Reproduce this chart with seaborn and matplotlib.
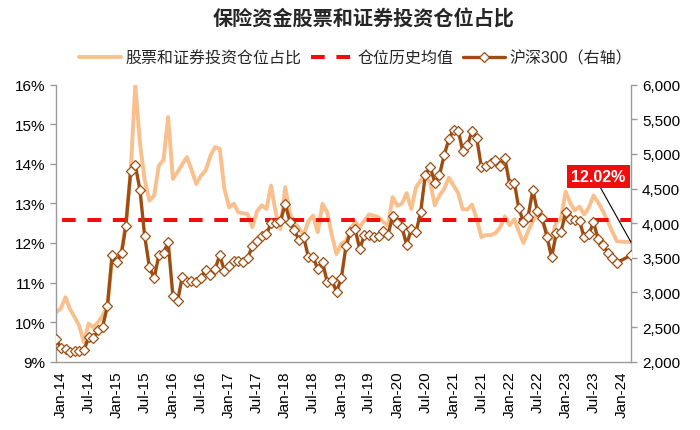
import numpy as np
import pandas as pd
import matplotlib
matplotlib.use("Agg")
import matplotlib.pyplot as plt
import matplotlib.dates as mdates
import matplotlib.ticker as mticker
from matplotlib.lines import Line2D
import seaborn as sns

sns.set_style("white")
plt.rcParams["font.family"] = ["Liberation Sans", "Noto Sans CJK SC"]

# ---------------- data ----------------
title = "保险资金股票和证券投资仓位占比"
series_names = ["股票和证券投资仓位占比", "仓位历史均值", "沪深300（右轴）"]

# monthly observations Dec-2013 ... Dec-2023, then Mar-2024 (quarterly)
dates = list(pd.date_range("2013-12-01", "2023-12-01", freq="MS")) + [pd.Timestamp("2024-03-01")]

share = [
    10.25,
    10.34, 10.63, 10.34, 10.13, 9.91, 9.49, 9.96, 9.87, 10.00, 10.17, 10.42, 11.55,
    11.50, 11.80, 12.50, 13.80, 16.00, 14.50, 13.60, 13.07, 13.20, 13.95, 14.10, 15.18,
    13.62, 13.80, 13.98, 14.17, 13.85, 13.49, 13.70, 13.83, 14.20, 14.42, 14.38, 13.37,
    12.90, 12.99, 12.78, 12.75, 12.73, 12.40, 12.80, 12.95, 12.86, 13.45, 12.75, 12.35,
    13.41, 12.75, 12.50, 12.38, 12.20, 12.55, 12.69, 12.27, 12.99, 12.78, 12.19, 11.72,
    11.98, 12.05, 12.36, 12.53, 12.40, 12.57, 12.72, 12.69, 12.65, 12.53, 12.44, 13.16,
    12.94, 13.00, 13.26, 12.86, 13.40, 13.58, 13.65, 13.55, 12.95, 13.20, 13.37, 13.65,
    13.45, 13.25, 12.85, 12.85, 12.97, 12.60, 12.15, 12.20, 12.20, 12.25, 12.40, 12.67,
    12.45, 12.60, 12.30, 12.00, 12.30, 12.55, 12.75, 12.53, 12.27, 12.10, 12.53, 12.61,
    13.30, 13.00, 12.82, 12.92, 12.72, 12.90, 13.20, 13.02, 12.80, 12.55, 12.28, 12.04,
    12.02,
]

csi300 = [
    2330,
    2202, 2179, 2146, 2159, 2161, 2165, 2351, 2338, 2451, 2508, 2809, 3534,
    3434, 3573, 3966, 4750, 4841, 4473, 3817, 3367, 3203, 3534, 3566, 3731,
    2946, 2877, 3218, 3157, 3170, 3154, 3204, 3328, 3253, 3336, 3538, 3310,
    3388, 3453, 3456, 3440, 3493, 3667, 3738, 3822, 3837, 4007, 4006, 4031,
    4276, 4024, 3899, 3757, 3802, 3511, 3517, 3335, 3439, 3154, 3173, 3011,
    3202, 3669, 3872, 3913, 3630, 3826, 3835, 3800, 3815, 3887, 3829, 4097,
    3999, 3940, 3686, 3913, 3867, 4164, 4695, 4816, 4587, 4695, 4981, 5211,
    5352, 5337, 5048, 5123, 5332, 5224, 4811, 4826, 4866, 4909, 4832, 4940,
    4564, 4582, 4223, 4016, 4091, 4485, 4170, 4079, 3805, 3509, 3853, 3872,
    4157, 4060, 4051, 4029, 3799, 3842, 4015, 3765, 3690, 3573, 3496, 3431,
    3537,
]

avg_share = 12.59

tick_dates = list(pd.date_range("2014-01-01", "2024-01-01", freq="6MS"))
tick_labels = ["Jan-14", "Jul-14", "Jan-15", "Jul-15", "Jan-16", "Jul-16", "Jan-17",
               "Jul-17", "Jan-18", "Jul-18", "Jan-19", "Jul-19", "Jan-20", "Jul-20",
               "Jan-21", "Jul-21", "Jan-22", "Jul-22", "Jan-23", "Jul-23", "Jan-24"]
left_ticks = [9, 10, 11, 12, 13, 14, 15, 16]
right_ticks = [2000, 2500, 3000, 3500, 4000, 4500, 5000, 5500, 6000]

df = pd.DataFrame({"date": dates, "share": share, "csi300": csi300})

# ---------------- style ----------------
LIGHT = "#F9C08E"
BROWN = "#9E4D12"
RED = "#F20D0D"
AXIS = "#9A9A9A"

fig = plt.figure(figsize=(7, 4.31), dpi=100)
ax = fig.add_axes([0.08, 0.1585, 0.8214, 0.6427])
ax2 = ax.twinx()

sns.lineplot(data=df, x="date", y="share", ax=ax, color=LIGHT, lw=2.8,
             solid_joinstyle="round", zorder=2)
ax.axhline(avg_share, color=RED, lw=2.9, linestyle=(4.8, (3.4, 2.9)), zorder=3)

sns.lineplot(data=df, x="date", y="csi300", ax=ax2, color=BROWN, lw=2.4,
             marker="D", markersize=5.5, markerfacecolor="white",
             markeredgecolor=BROWN, markeredgewidth=0.9, zorder=4)

ax.set_xlim(dates[0], dates[-1])
ax.set_ylim(left_ticks[0], left_ticks[-1])
ax2.set_ylim(right_ticks[0], right_ticks[-1])

ax.set_yticks(left_ticks)
ax.yaxis.set_major_formatter(mticker.FuncFormatter(lambda v, p: f"{v:.0f}%"))
ax2.set_yticks(right_ticks)
ax2.yaxis.set_major_formatter(mticker.FuncFormatter(lambda v, p: f"{v:,.0f}"))
ax.set_xticks(tick_dates)
ax.set_xticklabels(tick_labels, rotation=90)

for a in (ax, ax2):
    a.set_xlabel("")
    a.set_ylabel("")
    a.grid(False)
    a.spines["top"].set_visible(False)
ax.spines["right"].set_visible(False)
ax2.spines["left"].set_visible(False)
ax2.spines["bottom"].set_visible(False)
for s in ("left", "bottom"):
    ax.spines[s].set_color(AXIS)
    ax.spines[s].set_linewidth(1.0)
ax2.spines["right"].set_color(AXIS)
ax2.spines["right"].set_linewidth(1.0)

ax.tick_params(axis="y", left=True, direction="out", length=4, width=1,
               color=AXIS, pad=4, labelsize=11, labelcolor="black")
ax2.tick_params(axis="y", right=True, direction="out", length=4, width=1,
                color=AXIS, pad=4, labelsize=11, labelcolor="black")
ax.tick_params(axis="x", bottom=False, length=0, pad=6, labelsize=11, labelcolor="black")

# title and legend
fig.text(0.52, 0.956, title, ha="center", va="center", fontsize=14.5, fontweight="bold")
handles = [
    Line2D([], [], color=LIGHT, lw=2.8),
    Line2D([], [], color=RED, lw=2.9, linestyle=(0, (3.4, 2.9))),
    Line2D([], [], color=BROWN, lw=2.4, marker="D", markersize=5.5,
           markerfacecolor="white", markeredgecolor=BROWN, markeredgewidth=0.9),
]
fig.legend(handles, series_names, loc="center", bbox_to_anchor=(0.508, 0.864),
           ncol=3, frameon=False, fontsize=11.5, handlelength=2.6,
           handletextpad=0.3, columnspacing=0.6)

# end value annotation
ax2.annotate(f"{share[-1]:.2f}%",
             xy=(mdates.date2num(dates[-1]), share[-1]), xycoords=ax.transData,
             xytext=(0.9435, 0.668), textcoords="axes fraction",
             ha="center", va="center", color="white", fontsize=11.5, fontweight="bold",
             bbox=dict(boxstyle="square,pad=0.25", fc=RED, ec="none"),
             arrowprops=dict(arrowstyle="-", color="black", lw=0.8,
                             shrinkA=0, shrinkB=0, relpos=(0.5, 0)),
             zorder=6)

fig.savefig("out.png", dpi=100)
